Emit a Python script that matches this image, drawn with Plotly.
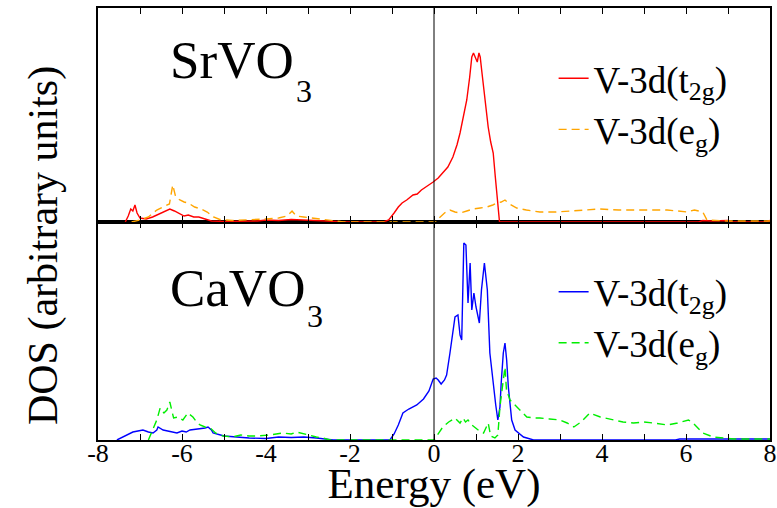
import plotly.graph_objects as go

# ---- SrVO3 : V-3d projected DOS ----
sr_t2g_e = [-7.35, -7.28, -7.22, -7.17, -7.12, -7.07, -7.0, -6.85, -6.7, -6.55, -6.4, -6.29, -6.18,
            -6.05, -5.95, -5.85, -5.72, -5.6, -5.45, -5.3, -5.0, -4.6, -4.2, -4.0, -3.7, -3.4, -3.1,
            -2.8, -2.5, -2.2, -2.05, -1.2, -1.08, -0.95, -0.85, -0.76, -0.65, -0.5, -0.4, -0.3, -0.15,
            -0.02, 0.1, 0.2, 0.33, 0.45, 0.55, 0.62, 0.7, 0.78, 0.85, 0.9, 0.94, 0.98, 1.03, 1.07, 1.1,
            1.14, 1.17, 1.23, 1.29, 1.35, 1.41, 1.46, 1.5, 1.53, 1.56, 6.3, 6.4, 6.6, 7.0, 7.1, 7.9, 8.0]
sr_t2g_dos = [0, 0.12, 0.26, 0.22, 0.34, 0.18, 0.08, 0.06, 0.1, 0.16, 0.22, 0.26, 0.22,
              0.16, 0.12, 0.14, 0.1, 0.1, 0.06, 0.02, 0.01, 0.01, 0.02, 0.04, 0.03, 0.05, 0.04,
              0.03, 0.02, 0.01, 0, 0, 0.04, 0.18, 0.3, 0.38, 0.44, 0.54, 0.56, 0.64, 0.72,
              0.8, 0.88, 0.98, 1.1, 1.3, 1.55, 1.78, 2.1, 2.44, 2.9, 3.3, 3.38, 3.3, 3.2, 3.38, 3.3,
              3.0, 2.78, 2.3, 1.9, 1.6, 1.38, 0.9, 0.58, 0.2, 0, 0, 0.03, 0.02, 0.03, 0, 0, 0.03]

sr_eg_e = [-7.2, -7.0, -6.8, -6.6, -6.45, -6.3, -6.22, -6.15, -6.05, -5.95, -5.85, -5.7, -5.55,
           -5.4, -5.25, -5.1, -4.8, -4.4, -4.0, -3.7, -3.5, -3.38, -3.28, -3.1, -2.9, -2.6, -2.3,
           -2.15, 0.05, 0.12, 0.25, 0.38, 0.5, 0.62, 0.78, 0.93, 1.1, 1.26, 1.4, 1.5, 1.6, 1.69,
           1.8, 1.97, 2.2, 2.52, 2.9, 3.2, 3.6, 3.95, 4.4, 4.75, 5.2, 5.55, 5.8, 6.02, 6.2, 6.4,
           6.5, 7.0, 7.5, 8.0]
sr_eg_dos = [0, 0.04, 0.1, 0.24, 0.3, 0.36, 0.74, 0.5, 0.44, 0.4, 0.38, 0.3, 0.26,
             0.2, 0.1, 0.05, 0.03, 0.04, 0.06, 0.08, 0.12, 0.22, 0.12, 0.1, 0.08, 0.05, 0.03,
             0, 0, 0.08, 0.18, 0.24, 0.2, 0.18, 0.22, 0.26, 0.28, 0.3, 0.34, 0.38, 0.4, 0.44,
             0.36, 0.28, 0.24, 0.2, 0.2, 0.22, 0.24, 0.26, 0.24, 0.24, 0.24, 0.24, 0.22, 0.2, 0.24,
             0.2, 0.04, 0.02, 0.02, 0.02]

# ---- CaVO3 : V-3d projected DOS ----
ca_t2g_e = [-7.55, -7.4, -7.25, -7.17, -7.05, -6.93, -6.8, -6.69, -6.6, -6.57, -6.45, -6.36, -6.25,
            -6.12, -6.0, -5.9, -5.81, -5.6, -5.45, -5.38, -5.3, -5.26, -5.1, -5.0, -4.7, -4.4, -4.0,
            -3.7, -3.4, -3.1, -2.8, -2.5, -2.4, -1.05, -0.95, -0.85, -0.74, -0.6, -0.41, -0.25,
            -0.12, -0.02, 0.05, 0.1, 0.17, 0.25, 0.3, 0.38, 0.45, 0.5, 0.57, 0.62, 0.66, 0.71, 0.76,
            0.81, 0.86, 0.9, 0.95, 1.0, 1.08, 1.13, 1.2, 1.27, 1.33, 1.41, 1.47, 1.52, 1.57, 1.6,
            1.65, 1.69, 1.73, 1.77, 1.85, 1.93, 2.05, 2.13, 2.37, 5.75, 5.85, 8.0]
ca_t2g_dos = [0, 0.06, 0.12, 0.16, 0.18, 0.2, 0.16, 0.14, 0.2, 0.26, 0.2, 0.18, 0.16,
              0.14, 0.18, 0.16, 0.2, 0.22, 0.24, 0.26, 0.2, 0.14, 0.1, 0.08, 0.06, 0.04, 0.03,
              0.06, 0.05, 0.06, 0.04, 0.02, 0, 0, 0.12, 0.3, 0.54, 0.62, 0.7, 0.82,
              0.98, 1.22, 1.24, 1.2, 1.12, 1.2, 1.3, 1.74, 2.2, 2.46, 2.5, 2.1, 2.0, 3.94, 3.9,
              2.74, 3.54, 2.6, 2.94, 2.66, 2.34, 3.0, 3.54, 3.0, 1.74, 1.06, 0.7, 0.4, 0.66, 1.14,
              1.74, 1.94, 1.6, 1.06, 0.4, 0.2, 0.12, 0.06, 0, 0, 0.02, 0.02]

ca_eg_e = [-6.8, -6.7, -6.6, -6.52, -6.43, -6.36, -6.29, -6.2, -6.1, -5.98, -5.86, -5.74, -5.65,
           -5.57, -5.45, -5.33, -5.2, -5.02, -4.8, -4.6, -4.4, -4.2, -3.9, -3.6, -3.4, -3.27, -3.1,
           -2.95, -2.8, -2.64, -2.48, 0.0, 0.1, 0.21, 0.35, 0.5, 0.62, 0.69, 0.75, 0.81, 0.9, 0.98,
           1.08, 1.18, 1.24, 1.29, 1.35, 1.45, 1.52, 1.57, 1.62, 1.65, 1.69, 1.73, 1.77, 1.81, 1.93,
           2.05, 2.21, 2.4, 2.52, 2.75, 3.0, 3.17, 3.33, 3.5, 3.71, 3.96, 4.27, 4.5, 4.75, 5.0,
           5.23, 5.55, 5.8, 6.06, 6.17, 6.4, 6.65, 7.13, 8.0]
ca_eg_dos = [0, 0.2, 0.4, 0.64, 0.54, 0.6, 0.76, 0.44, 0.46, 0.4, 0.54, 0.46, 0.36,
             0.3, 0.26, 0.24, 0.14, 0.08, 0.06, 0.1, 0.08, 0.08, 0.1, 0.14, 0.12, 0.16, 0.12,
             0.1, 0.06, 0.04, 0, 0, 0.12, 0.26, 0.36, 0.44, 0.34, 0.44, 0.36, 0.4, 0.3, 0.24,
             0.18, 0.14, 0.24, 0.34, 0.08, 0.04, 0.1, 0.66, 1.0, 1.2, 1.46, 0.94, 0.9, 0.8, 0.7,
             0.6, 0.46, 0.44, 0.44, 0.42, 0.4, 0.34, 0.26, 0.36, 0.54, 0.46, 0.4, 0.36, 0.34, 0.36,
             0.34, 0.3, 0.34, 0.4, 0.34, 0.14, 0.06, 0.02, 0.02]

energy_ticks = list(range(-8, 9))
energy_labels = [str(v) if v % 2 == 0 else "" for v in energy_ticks]

SERIF = "Liberation Serif"
DASH = "8px,5px"

fig = go.Figure()

fig.add_trace(go.Scatter(x=sr_t2g_e, y=sr_t2g_dos, mode="lines", xaxis="x2", yaxis="y2",
                         name="V-3d(t<sub>2g</sub>)", legend="legend",
                         line=dict(color="#ff0000", width=1.4)))
fig.add_trace(go.Scatter(x=sr_eg_e, y=sr_eg_dos, mode="lines", xaxis="x2", yaxis="y2",
                         name="V-3d(e<sub>g</sub>)", legend="legend",
                         line=dict(color="#ffa500", width=1.4, dash=DASH)))
fig.add_trace(go.Scatter(x=ca_t2g_e, y=ca_t2g_dos, mode="lines", xaxis="x", yaxis="y",
                         name="V-3d(t<sub>2g</sub>)", legend="legend2",
                         line=dict(color="#0000ff", width=1.4)))
fig.add_trace(go.Scatter(x=ca_eg_e, y=ca_eg_dos, mode="lines", xaxis="x", yaxis="y",
                         name="V-3d(e<sub>g</sub>)", legend="legend2",
                         line=dict(color="#00ee00", width=1.4, dash=DASH)))

split = 218 / 432

xcommon = dict(range=[-8, 8], tickmode="array", tickvals=energy_ticks, showgrid=False,
               zeroline=False, showline=True, linecolor="black", linewidth=2, mirror="ticks",
               ticks="inside", ticklen=6, tickwidth=1.2, tickcolor="black", automargin=False)
ycommon = dict(showgrid=False, zeroline=False, showline=True, linecolor="black", linewidth=2,
               mirror=True, ticks="", showticklabels=False, automargin=False)

legend_font = dict(family=SERIF, size=37, color="black")

fig.update_layout(
    width=777, height=508,
    margin=dict(l=98, r=7, t=8, b=68, autoexpand=False),
    paper_bgcolor="white", plot_bgcolor="white",
    xaxis=dict(**xcommon, anchor="y", ticktext=energy_labels, ticklabelstandoff=-11,
               tickfont=dict(family=SERIF, size=26, color="black"),
               title=dict(text="Energy (eV)", font=dict(family=SERIF, size=43, color="black"),
                          standoff=11)),
    xaxis2=dict(**xcommon, anchor="y2", matches="x", showticklabels=False),
    yaxis=dict(**ycommon, domain=[0, split], range=[0, 4.36]),
    yaxis2=dict(**ycommon, domain=[split, 1], range=[0, 4.28]),
    legend=dict(x=0.678, y=0.908, xanchor="left", yanchor="top", font=legend_font,
                bgcolor="rgba(0,0,0,0)", tracegroupgap=0),
    legend2=dict(x=0.678, y=0.414, xanchor="left", yanchor="top", font=legend_font,
                 bgcolor="rgba(0,0,0,0)", tracegroupgap=0),
    showlegend=True,
)

# Fermi level
fig.add_shape(type="line", x0=0, x1=0, xref="x", y0=0, y1=1, yref="paper",
              line=dict(color="black", width=1))

# compound labels (formula body plus a lowered, enlarged subscript digit)
label_font = dict(family=SERIF, size=53, color="black")
sub_font = dict(family=SERIF, size=32, color="black")
fig.add_annotation(text="SrVO", xref="x2", yref="y2", x=-6.33, y=3.24,
                   xanchor="left", yanchor="middle", showarrow=False, font=label_font)
fig.add_annotation(text="3", xref="x2", yref="y2", x=-3.33, y=2.62,
                   xanchor="left", yanchor="middle", showarrow=False, font=sub_font)
fig.add_annotation(text="CaVO", xref="x", yref="y", x=-6.33, y=3.04,
                   xanchor="left", yanchor="middle", showarrow=False, font=label_font)
fig.add_annotation(text="3", xref="x", yref="y", x=-3.07, y=2.48,
                   xanchor="left", yanchor="middle", showarrow=False, font=sub_font)

# shared vertical axis title
fig.add_annotation(text="DOS (arbitrary units)", xref="paper", yref="paper",
                   x=-0.082, y=0.451, textangle=-90, showarrow=False,
                   xanchor="center", yanchor="middle",
                   font=dict(family=SERIF, size=42, color="black"))

fig.write_html("out.html")
